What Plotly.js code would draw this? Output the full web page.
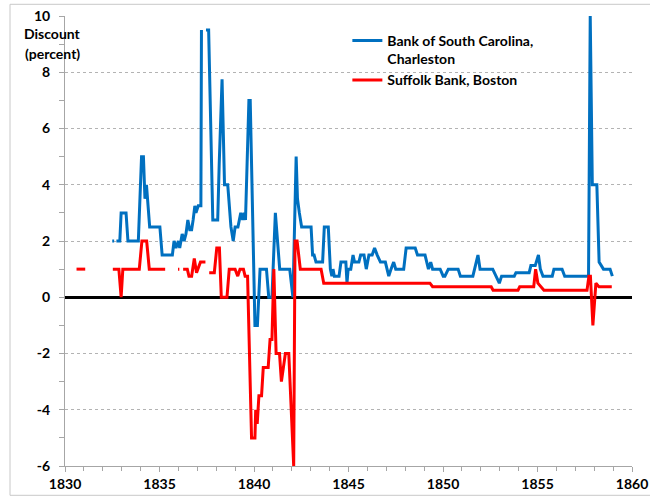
<!DOCTYPE html>
<html>
<head>
<meta charset="utf-8">
<script src="https://cdn.plot.ly/plotly-3.0.1.min.js"></script>
<style>html,body{margin:0;padding:0;background:#fff;}#chart{width:650px;height:500px;}</style>
</head>
<body>
<div id="chart"></div>
<script>
// Bank of South Carolina, Charleston (null = gap in data)
const blueYears = [1832.50,1832.60,null,1832.72,1832.90,1832.97,1833.23,1833.33,1833.88,1834.05,1834.15,1834.23,1834.31,1834.48,1835.02,1835.14,1835.68,1835.77,1835.87,1836.00,1836.07,1836.20,1836.30,1836.40,1836.50,1836.60,1836.70,1836.78,1836.87,1836.93,1837.05,1837.19,1837.22,null,1837.46,1837.60,1837.82,1838.08,1838.16,1838.31,1838.44,1838.61,1838.78,1838.90,1839.00,1839.15,1839.30,1839.40,1839.48,1839.55,1839.73,1839.80,1840.05,1840.18,1840.32,1840.66,1840.78,1840.95,1841.13,1841.36,1841.89,1842.06,1842.23,1842.30,1842.40,1842.52,1843.02,1843.10,1843.18,1843.28,1843.63,1843.72,1843.93,1844.04,1844.12,1844.18,1844.25,1844.50,1844.60,1844.86,1844.92,1844.98,1845.12,1845.24,1845.32,1845.55,1845.64,1845.82,1845.94,1846.08,1846.25,1846.38,1846.52,1846.69,1846.95,1847.13,1847.25,1847.39,1847.50,1847.92,1848.05,1848.53,1848.65,1849.05,1849.23,1849.35,1849.45,1849.85,1850.01,1850.10,1850.28,1850.80,1850.92,1851.58,1851.85,1851.96,1852.63,1852.81,1852.98,1853.10,1853.77,1853.86,1854.56,1854.65,1854.88,1855.05,1855.15,1855.29,1855.78,1855.87,1856.30,1856.44,1857.70,1857.79,1857.90,1858.14,1858.26,1858.49,1858.84,1858.96];
const blueValues = [2,2,null,2,2,3,3,2,2,5,5,3.5,4,2.5,2.5,1.5,1.5,2,1.75,2,1.75,2.25,2,2.25,2.75,2.4,2.4,2.75,3.25,3,3.25,3.25,9.5,null,9.5,9.5,2.75,2.75,4.75,7.75,4,4,2.5,2,2.5,2.5,3,2.75,3,2.75,7,7,-1,-1,1,1,0,0,3,1,1,0,5,3.5,3,2.5,2.5,1.5,1.5,1.25,1.25,2.5,2.5,1,0.75,1,0.75,0.75,1.25,1.25,0.5,1,1,1.5,1.25,1.25,1.5,1.5,1,1.5,1.5,1.75,1.5,1.25,1.25,0.75,1,1.25,1,1,1.75,1.75,1.5,1.5,1,1.25,1,1,0.75,0.75,1,1,0.75,0.75,1.5,1,1,0.75,0.5,0.75,0.75,0.875,0.875,1.125,1.125,1.5,1,0.75,0.75,1,1,0.75,0.75,10,4,4,1.25,1,1,0.75];

// Suffolk Bank, Boston (null = gap in data)
const redYears = [1830.61,1831.07,null,1832.53,1832.85,1832.97,1833.06,1833.93,1834.07,1834.32,1834.46,1835.30,null,1835.98,1836.05,null,1836.25,1836.47,1836.56,1836.70,1836.84,1836.96,1837.17,1837.43,null,1837.63,1837.90,1838.03,1838.17,1838.27,1838.57,1838.69,1839.00,1839.14,1839.26,1839.44,1839.53,1839.66,1839.87,1840.05,1840.09,1840.17,1840.26,1840.40,1840.49,1840.75,1840.85,1840.95,1841.05,1841.17,1841.35,1841.45,1841.66,1841.84,1842.10,1842.17,1842.28,1842.45,1843.55,1843.69,1849.31,1849.45,1852.55,1852.65,1853.97,1854.06,1854.80,1854.90,1855.02,1855.34,1857.62,1857.72,1857.80,1857.93,1858.09,1858.25,1858.93];
const redValues = [1,1,null,1,1,0,1,1,2,2,1,1,null,1,1,null,1,1,0.75,0.75,1.375,0.875,1.25,1.25,null,0.875,0.875,1.75,1.75,0,0,1,1,0.75,1,1,0.75,0.75,-5,-5,-4,-4.5,-3.5,-3.5,-2.5,-2.5,-1.5,-1.5,1,-2,-2,-3,-2,-2,-6,2,2,1,1,0.5,0.5,0.375,0.375,0.25,0.25,0.375,0.375,1,0.5,0.25,0.25,0.75,0.75,-1,0.5,0.375,0.375];

const seriesNames = ["Bank of South Carolina,<br>Charleston", "Suffolk Bank, Boston"];
const xTicks = [1830,1835,1840,1845,1850,1855,1860];
const yTicks = [-6,-4,-2,0,2,4,6,8,10];

const FONT = "Lato, 'Open Sans', 'Liberation Sans', sans-serif";

const traces = [
  {x: blueYears, y: blueValues, name: seriesNames[0], type: 'scatter', mode: 'lines',
   line: {color: '#0070C0', width: 3}, connectgaps: false},
  {x: redYears, y: redValues, name: seriesNames[1], type: 'scatter', mode: 'lines',
   line: {color: '#FF0000', width: 3}, connectgaps: false}
];

const layout = {
  width: 650, height: 500,
  margin: {l: 65, r: 18, t: 16, b: 34},
  paper_bgcolor: '#fff', plot_bgcolor: '#fff',
  font: {family: FONT, size: 14, color: '#000'},
  showlegend: true,
  legend: {x: 0.498, y: 0.98, xanchor: 'left', yanchor: 'top', valign: 'top',
           bgcolor: 'rgba(0,0,0,0)', font: {family: FONT, size: 14, color: '#000', weight: 'bold'},
           tracegroupgap: 7},
  xaxis: {range: [1830, 1860], tickvals: xTicks, ticktext: xTicks.map(String),
          showgrid: false, zeroline: false, showline: true, linecolor: '#a6a6a6', linewidth: 1,
          ticks: 'outside', ticklen: 5, tickcolor: '#a6a6a6', ticklabelstandoff: 0,
          ticklabeloverflow: 'allow',
          tickfont: {family: FONT, size: 14, color: '#000', weight: 'bold'},
          minor: {dtick: 1, tick0: 1830, ticks: 'outside', ticklen: 4, tickcolor: '#a6a6a6', showgrid: false}},
  yaxis: {range: [-6, 10], tickvals: yTicks, ticktext: yTicks.map(String),
          showgrid: true, gridcolor: '#b3b3b3', gridwidth: 1, griddash: '3px,3px',
          zeroline: true, zerolinecolor: '#000', zerolinewidth: 2.5,
          showline: true, linecolor: '#a6a6a6', linewidth: 1,
          ticks: 'outside', ticklen: 5, tickcolor: '#a6a6a6', ticklabelstandoff: 6,
          ticklabeloverflow: 'allow',
          tickfont: {family: FONT, size: 14, color: '#000', weight: 'bold'},
          minor: {dtick: 1, tick0: 0, ticks: 'outside', ticklen: 5, tickcolor: '#a6a6a6', showgrid: false}},
  annotations: [
    {text: 'Discount', xref: 'paper', yref: 'paper', x: -0.022, y: (465.7-33)/450, xanchor: 'center', yanchor: 'middle',
     showarrow: false, font: {family: FONT, size: 14, color: '#000', weight: 'bold'}},
    {text: '(percent)', xref: 'paper', yref: 'paper', x: -0.022, y: (465.7-53)/450, xanchor: 'center', yanchor: 'middle',
     showarrow: false, font: {family: FONT, size: 14, color: '#000', weight: 'bold'}}
  ],
  shapes: [
    {type: 'rect', xref: 'paper', yref: 'paper', x0: (10-65)/567, x1: 1.2, y0: (465.7-495)/450, y1: (465.7-4)/450,
     line: {color: '#c8c8c8', width: 1}, fillcolor: 'rgba(0,0,0,0)', layer: 'below'}
  ]
};

Plotly.newPlot('chart', traces, layout, {displayModeBar: false, staticPlot: true});
</script>
</body>
</html>
